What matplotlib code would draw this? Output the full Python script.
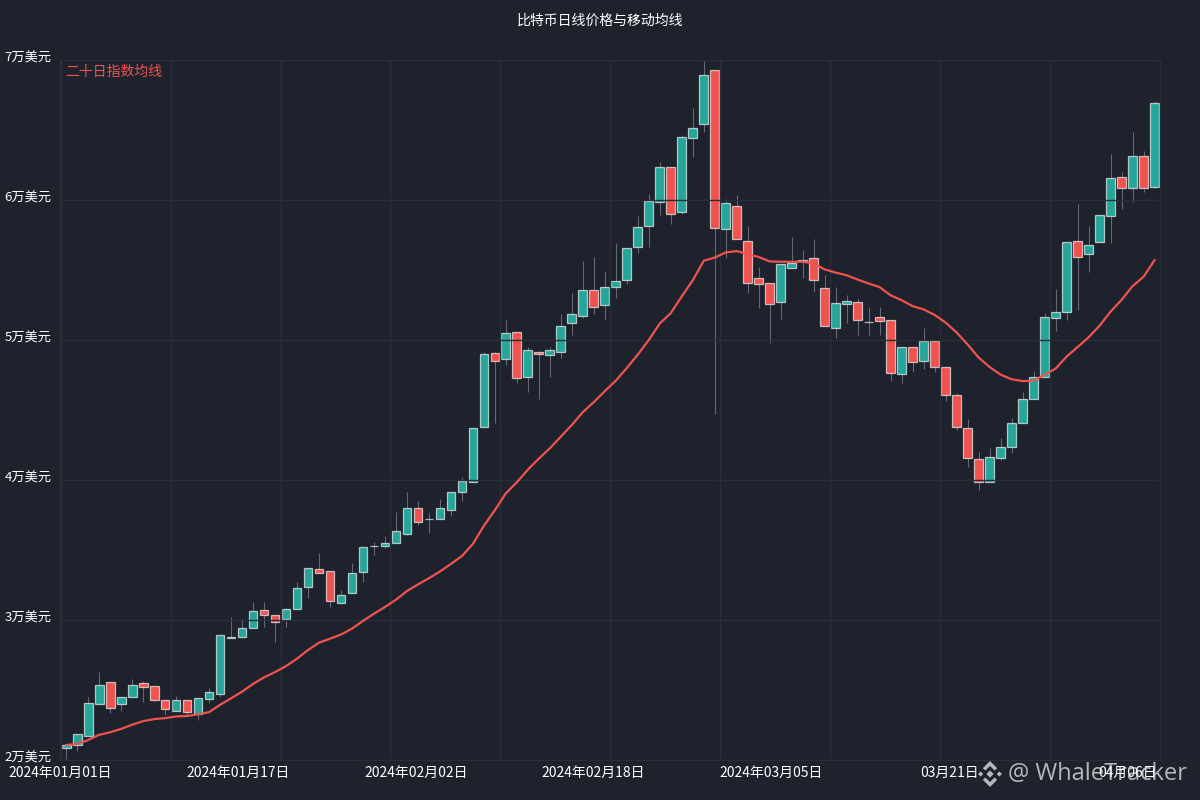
import numpy as np
import pandas as pd
import matplotlib
matplotlib.use('Agg')
import matplotlib.pyplot as plt
from matplotlib.patches import Polygon
from matplotlib.transforms import ScaledTranslation

### data ------------------------------------------------------------
opens = [20860, 21070, 21710, 24000, 25570, 24000, 24500, 25500, 25290, 24290,
         23500, 24290, 23290, 24360, 24710, 28750, 28790, 29430, 30710, 30360,
         30070, 30790, 32360, 33640, 33500, 31210, 31930, 33430, 35290, 35290,
         35500, 36140, 38000, 37180, 37210, 37860, 39140, 39860, 43790, 49070,
         48640, 50570, 47360, 49140, 48930, 49140, 51210, 51710, 53570, 52500,
         53790, 54290, 56640, 58140, 59860, 62360, 59140, 64430, 65430, 69290,
         57930, 59570, 57070, 54430, 54070, 52710, 55140, 55640, 55860, 53710,
         50860, 52570, 52710, 51290, 51640, 51430, 47570, 49500, 48500, 49930,
         48070, 46070, 43710, 41500, 39860, 41570, 42360, 44070, 45790, 47360,
         51570, 52000, 57070, 56140, 57000, 58860, 61640, 60860, 63140, 60930]
closes = [21070, 21860, 24070, 25360, 23710, 24500, 25360, 25210, 24290, 23640,
          24290, 23430, 24430, 24860, 28930, 28790, 29430, 30640, 30360, 29860,
          30790, 32290, 33710, 33360, 31360, 31790, 33360, 35210, 35320, 35500,
          36360, 38000, 37000, 37210, 38000, 39140, 39930, 43710, 49000, 48500,
          50500, 47290, 49290, 49000, 49290, 51000, 51860, 53570, 52360, 53790,
          54210, 56570, 58070, 59930, 62360, 59000, 64500, 65140, 68930, 58000,
          59790, 57210, 54070, 54000, 52570, 55430, 55500, 55680, 54290, 51000,
          52640, 52790, 51430, 51320, 51360, 47640, 49500, 48430, 49930, 48070,
          46070, 43790, 41570, 39860, 41640, 42360, 44070, 45790, 47360, 51640,
          52000, 57000, 55930, 56790, 58930, 61570, 60860, 63140, 60860, 66930]
highs = [21070, 21860, 24500, 26290, 25570, 24500, 25790, 25640, 25290, 24290,
         24570, 24290, 24430, 25140, 28930, 30210, 30070, 31290, 31290, 30360,
         30860, 32710, 33710, 34790, 33500, 32140, 34070, 35210, 35570, 36000,
         37710, 39140, 38500, 37640, 38640, 39140, 40210, 43710, 49140, 49140,
         51430, 50570, 49500, 49210, 49500, 51860, 53360, 55640, 55930, 54930,
         56930, 56570, 58860, 60430, 62710, 62360, 64640, 66570, 69930, 69290,
         60070, 60360, 58140, 55210, 54070, 55430, 57360, 56430, 57210, 54640,
         53790, 53210, 53000, 52360, 52360, 51430, 49500, 49500, 50860, 49930,
         48070, 46210, 44360, 42000, 42290, 43000, 44430, 46290, 47790, 51930,
         53640, 57000, 59710, 58140, 58930, 63290, 62000, 64860, 63500, 67070]
lows = [20070, 20640, 21710, 24000, 23360, 23500, 24500, 24140, 24210, 23210,
        23500, 23210, 22860, 24070, 24500, 28710, 28790, 29430, 29500, 28430,
        29500, 30790, 31570, 33360, 30930, 31210, 31930, 32710, 34640, 35140,
        35500, 36070, 36790, 36210, 37210, 37430, 38500, 39860, 43790, 44070,
        48210, 46930, 46290, 45790, 47360, 48710, 50360, 51570, 51860, 51430,
        53000, 54000, 56210, 56640, 58930, 58290, 59000, 63070, 64860, 44710,
        55860, 57210, 53360, 52290, 49790, 51500, 55140, 54430, 53430, 51000,
        50140, 51210, 50360, 50360, 50360, 47070, 46930, 47710, 47930, 47710,
        45640, 43570, 40930, 39290, 39860, 41430, 41930, 44070, 45790, 47360,
        50640, 51430, 52140, 54860, 57000, 56930, 59360, 59860, 60570, 60860]

y_ticks = [20000, 30000, 40000, 50000, 60000, 70000]
y_labels = [f"{v // 10000}万美元" for v in y_ticks]
x_labels = ["2024年01月01日", "2024年01月17日", "2024年02月02日",
            "2024年02月18日", "2024年03月05日", "03月21日", "04月06日"]

title = "比特币日线价格与移动均线"
ma_label = "二十日指数均线"
watermark = "@ WhaleTracker"

BG = '#1e222d'
GRID = '#2a2e39'
UP = '#26a69a'
DOWN = '#ef5350'

plt.rcParams['font.family'] = ['Noto Sans CJK SC', 'DejaVu Sans']

fig = plt.figure(figsize=(12, 8), dpi=100, facecolor=BG)
ax = fig.add_axes([60 / 1200, 40 / 800, 1100 / 1200, 700 / 800])
ax.set_facecolor(BG)

o = np.array(opens)
c = np.array(closes)
x = np.arange(len(c))
colors = np.where(c >= o, UP, DOWN)

ax.vlines(x, lows, highs, color='#656874', lw=0.8, zorder=2)
ax.bar(x, np.abs(c - o), bottom=np.minimum(o, c), width=0.8, color=colors,
       edgecolor=(1, 1, 1, 0.65), linewidth=0.9, zorder=3)

ema = pd.Series(closes).ewm(span=20, adjust=False).mean()
ax.plot(x, ema, color=DOWN, lw=1.6, zorder=4)

ax.set_xlim(-0.518, 99.482)
ax.set_ylim(20000, 70000)
ax.set_yticks(y_ticks)
ax.set_yticklabels(y_labels)
ax.set_xticks(np.arange(len(x_labels)) * 16.18 - 0.56)
ax.set_xticklabels(x_labels)
ax.set_xticks(np.arange(-0.5, 100, 10), minor=True)

ax.grid(False)
ax.grid(which='minor', axis='x', color=GRID, lw=1)
ax.grid(which='major', axis='y', color=GRID, lw=1)
ax.xaxis.set_zorder(3.5)
ax.yaxis.set_zorder(3.5)
ax.tick_params(which='both', length=0, colors='white', labelsize=10)
ax.tick_params(axis='y', pad=6, labelsize=9.5)
ax.tick_params(axis='x', pad=4)
for s in ax.spines.values():
    s.set_color(GRID)

# y labels sit a little above their grid lines, as in the reference
lift = ScaledTranslation(0, 3.5 / 100, fig.dpi_scale_trans)
for t in ax.yaxis.get_major_ticks():
    t.label1.set_transform(t.label1.get_transform() + lift)

fig.text(0.5, 1 - 21 / 800, title, color='white', ha='center', va='center', fontsize=10)
fig.text(65 / 1200, 1 - 72 / 800, ma_label, color=DOWN, ha='left', va='center', fontsize=10)

# watermark
wm_col = '#c8c8c8'
fig.text(1008 / 1200, 1 - 774 / 800, watermark, family='Open Sans', fontsize=17,
         color=wm_col, alpha=0.9, ha='left', va='center', zorder=-1)
lax = fig.add_axes([977 / 1200, 1 - 787 / 800, 26 / 1200, 26 / 800])
lax.set_zorder(-1)
lax.axis('off')
lax.set_xlim(-1, 1)
lax.set_ylim(-1, 1)
shapes = [
    [(0, 0.28), (0.28, 0), (0, -0.28), (-0.28, 0)],
    [(-0.72, 0.2), (-0.52, 0), (-0.72, -0.2), (-0.92, 0)],
    [(0.72, 0.2), (0.92, 0), (0.72, -0.2), (0.52, 0)],
    [(0, 1), (0.55, 0.45), (0.36, 0.26), (0, 0.62), (-0.36, 0.26), (-0.55, 0.45)],
    [(0, -1), (0.55, -0.45), (0.36, -0.26), (0, -0.62), (-0.36, -0.26), (-0.55, -0.45)],
]
for pts in shapes:
    lax.add_patch(Polygon(pts, closed=True, color=wm_col, alpha=0.9, lw=0))

fig.savefig('out.png', dpi=100, facecolor=BG)
